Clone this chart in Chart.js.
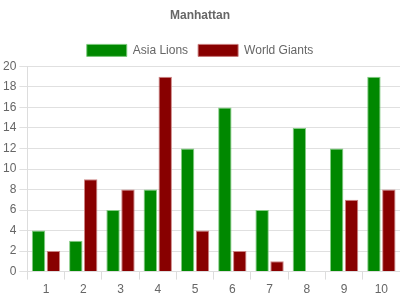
<!DOCTYPE html>
<html>
<head>
<meta charset="utf-8">
<script src="https://cdn.jsdelivr.net/npm/chart.js@4"></script>
<style>
  html, body { margin: 0; padding: 0; background: #fff; }
  .wrap { width: 400px; height: 300px; }
</style>
</head>
<body>
<div class="wrap"><canvas id="c"></canvas></div>
<script>
const labels = ['1', '2', '3', '4', '5', '6', '7', '8', '9', '10'];
const asiaLions = [4, 3, 6, 8, 12, 16, 6, 14, 12, 19];
const worldGiants = [2, 9, 8, 19, 4, 2, 1, 0, 7, 8];

const font = "'Liberation Sans', Arial, sans-serif";
Chart.defaults.font.family = font;
Chart.defaults.color = '#666';

new Chart(document.getElementById('c'), {
  type: 'bar',
  data: {
    labels,
    datasets: [
      { label: 'Asia Lions', data: asiaLions, backgroundColor: '#008800', borderColor: 'rgba(120,200,120,0.9)', borderWidth: 1 },
      { label: 'World Giants', data: worldGiants, backgroundColor: '#880000', borderColor: 'rgba(200,120,120,0.9)', borderWidth: 1 }
    ]
  },
  options: {
    responsive: true, maintainAspectRatio: false, animation: false,
    layout: { padding: { left: 0, right: 0, top: 0, bottom: 0 } },
    plugins: {
      title: { display: true, text: 'Manhattan', color: '#666', font: { size: 12, weight: 'bold' }, padding: { top: 8, bottom: 12 } },
      legend: { position: 'top', labels: { boxWidth: 40, boxHeight: 12, color: '#666', font: { size: 12 }, padding: 10 } },
      tooltip: { enabled: false }
    },
    scales: {
      x: {
        grid: { drawOnChartArea: false, drawTicks: true, tickLength: 8, color: '#ddd', offset: true },
        border: { color: '#ddd' },
        ticks: { color: '#666', font: { size: 12 } }
      },
      y: {
        min: 0, max: 20,
        grid: { color: '#e0e0e0', tickLength: 8 },
        border: { color: '#ddd' },
        ticks: { stepSize: 2, color: '#666', font: { size: 12 } }
      }
    }
  }
});
</script>
</body>
</html>
